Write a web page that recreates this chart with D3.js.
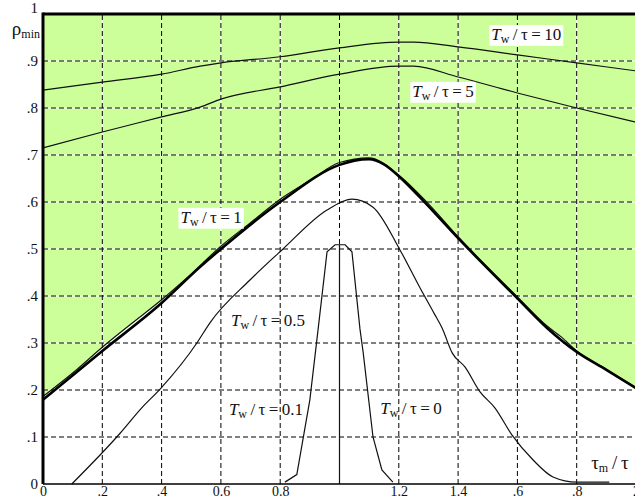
<!DOCTYPE html>
<html>
<head>
<meta charset="utf-8">
<script src="https://cdn.jsdelivr.net/npm/d3@7"></script>
<style>
  body { margin: 0; background: #fff; }
  text { font-family: "Liberation Serif", "DejaVu Serif", serif; fill: #111; }
</style>
</head>
<body>
<div id="chart"></div>
<script>
// values
const xTicks = [0, 0.2, 0.4, 0.6, 0.8, 1.0, 1.2, 1.4, 1.6, 1.8, 2.0]
const xTickLabels = ['0', '.2', '.4', '0.6', '0.8', '', '1.2', '1.4', '.6', '.8', '2']
const yTicks = [0, 0.1, 0.2, 0.3, 0.4, 0.5, 0.6, 0.7, 0.8, 0.9, 1]
const yTickLabels = ['0', '.1', '.2', '.3', '.4', '.5', '.6', '.7', '.8', '.9', '1']

const tw10 = [[0, .838], [.2, .855], [.4, .872], [.53, .889], [.6, .896], [.8, .909], [1.0, .928],
  [1.2, .940], [1.25, .940], [1.4, .930], [1.6, .913], [1.8, .896], [2.0, .879]]
const tw5 = [[0, .715], [.2, .749], [.4, .781], [.53, .802], [.6, .819], [.8, .845], [1.0, .872],
  [1.2, .889], [1.25, .889], [1.4, .866], [1.6, .832], [1.8, .800], [2.0, .770]]
// thick reference curve
const bound = [[0, .179], [.2, .283], [.4, .385], [.53, .462], [.6, .500], [.8, .600], [1.0, .679],
  [1.05, .688], [1.1, .691], [1.15, .680], [1.2, .655], [1.27, .611], [1.4, .523], [1.6, .395],
  [1.7, .332], [1.8, .281], [1.9, .243], [2.0, .204]]
const tw1 = [[0, .186], [.1, .236], [.2, .291], [.3, .342], [.4, .392], [.5, .447], [.6, .506],
  [.7, .556], [.8, .606], [.9, .646], [1.0, .684], [1.1, .694], [1.2, .657], [1.3, .596],
  [1.4, .526], [1.6, .398], [1.7, .336], [1.75, .312], [1.8, .283], [1.9, .244], [2.0, .205]]
const tw05 = [[.097, 0], [.26, .108], [.33, .160], [.398, .204], [.519, .300], [.563, .343],
  [.698, .434], [.806, .498], [.958, .583], [1.042, .606], [1.113, .589], [1.204, .498],
  [1.27, .419], [1.32, .362], [1.346, .332], [1.38, .279], [1.423, .249], [1.474, .196],
  [1.524, .162], [1.582, .104], [1.653, .051], [1.72, .015], [1.8, .004], [1.91, .004]]
const tw01 = [[.816, .004], [.856, .020], [.90, .179], [.928, .330], [.958, .494], [.985, .509],
  [1.019, .509], [1.042, .494], [1.069, .330], [1.08, .279], [1.113, .100], [1.143, .030], [1.18, .004]]
const tw0 = [[1.0, 0], [1.0, .509]]

const labels = [
  { sub: '10', x: 1.63, y: .953, box: true },
  { sub: '5', x: 1.349, y: .832, box: true },
  { sub: '1', x: .567, y: .564, box: true },
  { sub: '0.5', x: .759, y: .345, box: false },
  { sub: '0.1', x: .752, y: .155, box: false },
  { sub: '0', x: 1.241, y: .157, box: false }
]

const W = 635, H = 499
const svg = d3.select('#chart').append('svg')
  .attr('width', W).attr('height', H)

const x = d3.scaleLinear().domain([0, 2]).range([43, 636])
const y = d3.scaleLinear().domain([0, 1]).range([484, 14])

const line = d3.line().x(d => x(d[0])).y(d => y(d[1]))
const smooth = d3.line().x(d => x(d[0])).y(d => y(d[1])).curve(d3.curveMonotoneX)

// green area above the Tw/τ=1 curve
svg.append('path')
  .datum(tw1)
  .attr('d', d3.area().x(d => x(d[0])).y0(y(1)).y1(d => y(d[1])).curve(d3.curveMonotoneX))
  .attr('fill', '#ccff99')

// grid: white underlay, black dashes on top
const grid = svg.append('g').attr('class', 'grid')
const vx = xTicks.filter(d => d > 0)
const hy = yTicks.filter(d => d > 0 && d < 1)
for (const style of [{ c: '#fff', dash: null }, { c: '#000', dash: '5,3' }]) {
  grid.selectAll(null).data(vx).enter().append('line')
    .attr('x1', d => x(d)).attr('x2', d => x(d))
    .attr('y1', y(0)).attr('y2', y(1))
    .attr('stroke', style.c).attr('stroke-width', 1)
    .attr('stroke-dasharray', style.dash)
  grid.selectAll(null).data(hy).enter().append('line')
    .attr('x1', x(0)).attr('x2', x(2))
    .attr('y1', d => y(d)).attr('y2', d => y(d))
    .attr('stroke', style.c).attr('stroke-width', 1)
    .attr('stroke-dasharray', style.dash)
}

// curves
svg.append('g').selectAll('path').data([tw10, tw5, tw1, tw05]).enter().append('path')
  .attr('d', smooth)
  .attr('fill', 'none')
  .attr('stroke', '#111')
  .attr('stroke-width', 1.2)

svg.append('g').selectAll('path').data([tw01, tw0]).enter().append('path')
  .attr('d', line)
  .attr('fill', 'none')
  .attr('stroke', '#111')
  .attr('stroke-width', 1.2)

svg.append('path')
  .datum(bound)
  .attr('d', smooth)
  .attr('fill', 'none')
  .attr('stroke', '#000')
  .attr('stroke-width', 2.6)

// frame
svg.append('line').attr('x1', x(0)).attr('x2', x(2)).attr('y1', y(1)).attr('y2', y(1))
  .attr('stroke', '#000').attr('stroke-width', 3)
svg.append('line').attr('x1', x(0)).attr('x2', x(0)).attr('y1', y(1) - 1.5).attr('y2', y(0))
  .attr('stroke', '#000').attr('stroke-width', 3)
svg.append('line').attr('x1', x(0)).attr('x2', x(2)).attr('y1', y(0)).attr('y2', y(0))
  .attr('stroke', '#000').attr('stroke-width', 1.5)

// axes tick labels
const xAxis = d3.axisBottom(x).tickValues(xTicks).tickSize(0).tickPadding(2)
  .tickFormat((d, i) => xTickLabels[i])
const gx = svg.append('g').attr('transform', `translate(0,${y(0)})`).call(xAxis)
gx.select('.domain').remove()
gx.selectAll('text').attr('font-size', 14).attr('font-family', '"Liberation Serif", serif').attr('fill', '#111')

const yAxis = d3.axisLeft(y).tickValues(yTicks).tickSize(0).tickPadding(5)
  .tickFormat((d, i) => yTickLabels[i])
const gy = svg.append('g').attr('transform', `translate(${x(0)},0)`).call(yAxis)
gy.select('.domain').remove()
gy.selectAll('text').attr('font-size', 15).attr('font-family', '"Liberation Serif", serif').attr('fill', '#111')
gy.selectAll('.tick').filter(d => d === 1).select('text').attr('dy', '-0.1em')

// axis titles
const rho = svg.append('text')
  .attr('x', x(0) - 3).attr('y', y(0.955))
  .attr('text-anchor', 'end').attr('font-size', 19)
rho.append('tspan').text('ρ')
rho.append('tspan').attr('font-size', 12).attr('dy', 3).text('min')

const tau = svg.append('text')
  .attr('x', x(1.912)).attr('y', y(0.04)).attr('dominant-baseline', 'middle')
  .attr('text-anchor', 'middle').attr('font-size', 19)
tau.append('tspan').text('τ')
tau.append('tspan').attr('font-size', 12).attr('dy', 4).text('m')
tau.append('tspan').attr('dy', -4).text('\u2009/\u2009τ')

// curve labels
labels.forEach(l => {
  const g = svg.append('g')
  const t = g.append('text')
    .attr('x', x(l.x)).attr('y', y(l.y))
    .attr('text-anchor', 'middle').attr('dominant-baseline', 'middle')
    .attr('font-size', 17)
  t.append('tspan').attr('font-style', 'italic').text('T')
  t.append('tspan').attr('font-size', 12).attr('dy', 4).text('w')
  t.append('tspan').attr('dy', -4).text('\u2009/\u2009τ\u2009=\u2009' + l.sub)
  if (l.box) {
    const b = t.node().getBBox()
    g.insert('rect', 'text')
      .attr('x', b.x - 2).attr('y', b.y)
      .attr('width', b.width + 4).attr('height', b.height)
      .attr('fill', '#fff')
  }
})
</script>
</body>
</html>
